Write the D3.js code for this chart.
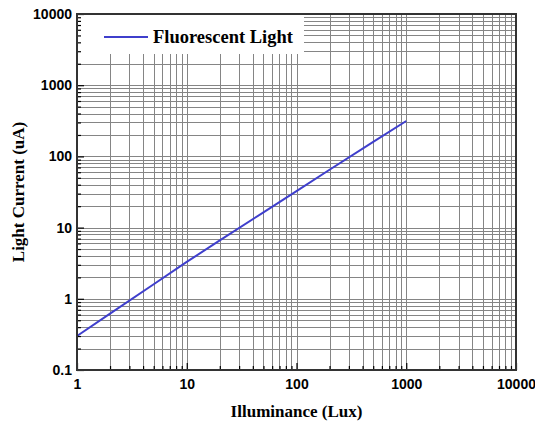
<!DOCTYPE html>
<html>
<head>
<meta charset="utf-8">
<script src="https://cdn.jsdelivr.net/npm/d3@7/dist/d3.min.js"></script>
<style>
  body { margin: 0; background: #fff; }
</style>
</head>
<body>
<script>
// illuminance (lux) vs light current (uA)
var lux = [1, 2, 5, 10, 20, 50, 100, 200, 500, 1000];
var current = [0.30, 0.62, 1.6, 3.3, 6.6, 16.4, 32.5, 65, 160, 314];
var series_name = "Fluorescent Light";
var x_ticks = [1, 10, 100, 1000, 10000];
var y_ticks = [0.1, 1, 10, 100, 1000, 10000];

var width = 535, height = 430;
var margin = {top: 14, right: 19, bottom: 60, left: 77};

var svg = d3.select("body").append("svg")
    .attr("width", width)
    .attr("height", height);

var x = d3.scaleLog().domain([1, 10000]).range([margin.left, width - margin.right]);
var y = d3.scaleLog().domain([0.1, 10000]).range([height - margin.bottom, margin.top]);

// every 1..9 step of each decade
function minors(lo, hi) {
    var out = [];
    for (var p = lo; p < hi; p *= 10) {
        for (var k = 1; k <= 9; k++) out.push(+(p * k).toPrecision(3));
    }
    out.push(hi);
    return out;
}
var x_minor = minors(1, 10000);
var y_minor = minors(0.1, 10000);

var grid = svg.append("g")
    .attr("stroke", "#858585")
    .attr("stroke-width", 1);
grid.selectAll(".vx").data(x_minor).join("line")
    .attr("x1", d => Math.round(x(d)) + 0.5).attr("x2", d => Math.round(x(d)) + 0.5)
    .attr("y1", y.range()[0]).attr("y2", y.range()[1]);
grid.selectAll(".hy").data(y_minor).join("line")
    .attr("y1", d => Math.round(y(d)) + 0.5).attr("y2", d => Math.round(y(d)) + 0.5)
    .attr("x1", x.range()[0]).attr("x2", x.range()[1]);

// legend panel hides the grid behind it
svg.append("rect")
    .attr("x", margin.left + 1)
    .attr("y", margin.top + 1)
    .attr("width", 226)
    .attr("height", 39)
    .attr("fill", "#fff");

var line = d3.line()
    .x(d => x(d[0]))
    .y(d => y(d[1]));
svg.append("path")
    .datum(d3.zip(lux, current))
    .attr("fill", "none")
    .attr("stroke", "#3f3fcc")
    .attr("stroke-width", 2)
    .attr("d", line);

// axes with ticks pointing inward
var xAxis = d3.axisBottom(x)
    .tickValues(x_minor)
    .tickSize(-5)
    .tickFormat(d => x_ticks.includes(d) ? d : "");
var gx = svg.append("g")
    .attr("transform", `translate(0,${height - margin.bottom})`)
    .call(xAxis);
gx.selectAll(".tick line").attr("y2", d => x_ticks.includes(d) ? -7 : -4);

var yAxis = d3.axisLeft(y)
    .tickValues(y_minor)
    .tickSize(-5)
    .tickFormat(d => y_ticks.includes(d) ? d : "");
var gy = svg.append("g")
    .attr("transform", `translate(${margin.left},0)`)
    .call(yAxis);
gy.selectAll(".tick line").attr("x2", d => y_ticks.includes(d) ? 7 : 4);

svg.selectAll(".domain").remove();
svg.selectAll(".tick line").attr("stroke", "#000").attr("stroke-width", 1.2);
svg.selectAll(".tick text")
    .attr("fill", "#000")
    .style("font", "bold 14px 'Liberation Sans', Arial, sans-serif");
gx.selectAll(".tick text").attr("y", 9);
gy.selectAll(".tick text").attr("x", -5);

// plot frame
svg.append("rect")
    .attr("x", x.range()[0])
    .attr("y", y.range()[1])
    .attr("width", x.range()[1] - x.range()[0])
    .attr("height", y.range()[0] - y.range()[1])
    .attr("fill", "none")
    .attr("stroke", "#333")
    .attr("stroke-width", 2);

// legend
svg.append("line")
    .attr("x1", 104).attr("x2", 148)
    .attr("y1", 37).attr("y2", 37)
    .attr("stroke", "#3f3fcc")
    .attr("stroke-width", 2);
svg.append("text")
    .attr("x", 153).attr("y", 43)
    .style("font", "bold 18.5px 'Liberation Serif', 'Times New Roman', serif")
    .text(series_name);

// axis titles
svg.append("text")
    .attr("x", (x.range()[0] + x.range()[1]) / 2)
    .attr("y", 417)
    .attr("text-anchor", "middle")
    .style("font", "bold 17px 'Liberation Serif', 'Times New Roman', serif")
    .text("Illuminance (Lux)");
svg.append("text")
    .attr("transform", `translate(24,${(y.range()[0] + y.range()[1]) / 2}) rotate(-90)`)
    .attr("text-anchor", "middle")
    .style("font", "bold 17px 'Liberation Serif', 'Times New Roman', serif")
    .text("Light Current (uA)");
</script>
</body>
</html>
